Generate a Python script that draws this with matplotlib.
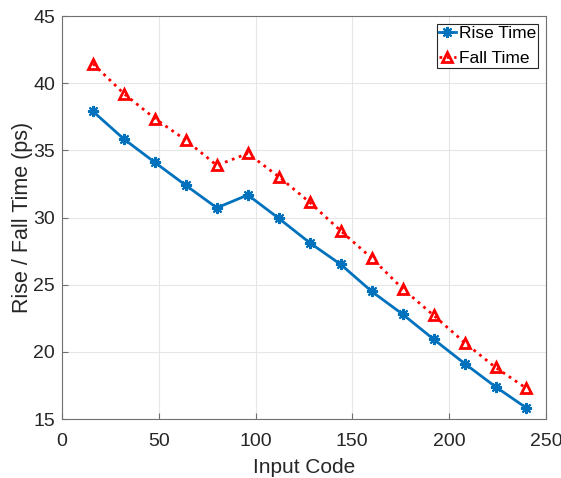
import matplotlib.pyplot as plt
import numpy as np

codes = [16, 32, 48, 64, 80, 96, 112, 128, 144, 160, 176, 192, 208, 224, 240]
rise_time = [37.9, 35.84, 34.1, 32.39, 30.72, 31.68, 29.94, 28.12, 26.51, 24.5,
             22.8, 20.94, 19.13, 17.4, 15.82]
fall_time = [41.45, 39.22, 37.37, 35.76, 33.88, 34.77, 33.04, 31.13, 29.01, 26.98,
             24.7, 22.72, 20.69, 18.84, 17.28]

plt.rcParams['font.family'] = ['Liberation Sans', 'DejaVu Sans']

fig = plt.figure(figsize=(5.61, 4.78), dpi=100)
ax = fig.add_axes([0.1105, 0.1234, 0.8625, 0.8431])

# curvas
ax.plot(codes, rise_time, color="#0072BD", lw=2, marker=(8, 2, 0), ms=8,
        mec="#0072BD", mew=1.5, label="Rise Time")
ax.plot(codes, fall_time, color="red", lw=2, ls=":", marker="^", ms=7,
        mfc="none", mec="red", mew=2, label="Fall Time")

# ejes estilo matlab
ax.set_xlim(0, 250)
ax.set_ylim(15, 45)
ax.set_xticks(np.arange(0, 251, 50))
ax.set_yticks(np.arange(15, 46, 5))
ax.grid(True, color="#e6e6e6", lw=0.8)
ax.set_axisbelow(True)
ax.tick_params(direction="in", labelsize=14, colors="#707070", length=4)
ax.tick_params(axis="x", pad=10)
ax.tick_params(axis="y", pad=5)
for lbl in ax.get_xticklabels() + ax.get_yticklabels():
    lbl.set_color("#262626")
for s in ax.spines.values():
    s.set_color("#707070")
    s.set_linewidth(0.8)

ax.set_xlabel("Input Code", fontsize=15, color="#262626", labelpad=6)
ax.set_ylabel("Rise / Fall Time (ps)", fontsize=15.5, color="#262626", labelpad=0)

leg = ax.legend(loc="upper right", fontsize=12.5, fancybox=False, framealpha=1,
                edgecolor="#262626", handlelength=1.0, handletextpad=0.15,
                borderpad=0.12, labelspacing=0.55, borderaxespad=0.45)
leg.get_frame().set_linewidth(0.8)

plt.savefig("out.png", dpi=100)
